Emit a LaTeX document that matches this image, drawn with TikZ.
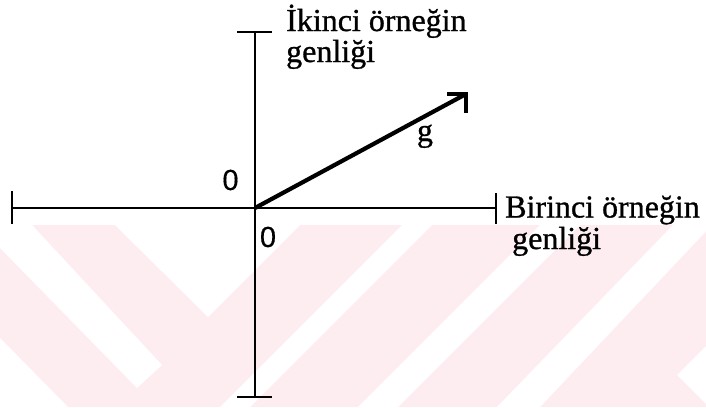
\documentclass[tikz,border=0pt]{standalone}
\usepackage{fontspec}
\setmainfont{Liberation Serif}
\newfontfamily\heavyserif{Liberation Serif}[FakeBold=0.9]
\newfontfamily\zerofont{Liberation Sans}[FakeBold=0.5]
\definecolor{wmpink}{RGB}{253,237,241}
\begin{document}
\begin{tikzpicture}[x=1pt,y=-1pt,
  axisline/.style={line width=2.7pt, black},
  vecline/.style={line width=4.2pt, black},
  lbl/.style={inner sep=0pt, font=\heavyserif\fontsize{32}{32}\selectfont},
  zero/.style={inner sep=0pt, font=\zerofont\fontsize{29}{29}\selectfont},
  wm/.style={fill=white, draw=none}]
\useasboundingbox (0,0) rectangle (706,407);
% watermark background
\fill[wmpink] (0,225) rectangle (706,407);
\fill[wm] (0,225) -- (32,225) -- (162,365) -- (137,388) -- (0,248) -- cycle;
\fill[wm] (115,225) -- (300,225) -- (208,317) -- cycle;
\fill[wm] (0,338) -- (0,407) -- (68,407) -- cycle;
\fill[wm] (402,225) -- (432,225) -- (250,407) -- (220,407) -- cycle;
\fill[wm] (540,225) -- (580,225) -- (398,407) -- (358,407) -- cycle;
\fill[wm] (673,225) -- (712,225) -- (540,407) -- (497,407) -- cycle;
\fill[wm] (706,346) -- (677,375) -- (706,404) -- cycle;
% coordinates
\coordinate (O) at (255,208);
\coordinate (L) at (12,208);
\coordinate (R) at (496,208);
\coordinate (Tp) at (255,32);
\coordinate (Bt) at (255,397);
\coordinate (T) at (466,94);
% axes
\draw[axisline] (L) -- (R);
\draw[axisline] (Tp) -- (Bt);
\draw[axisline] ([yshift=17pt]L) -- ([yshift=-16pt]L);
\draw[axisline] ([yshift=15pt]R) -- ([yshift=-16pt]R);
\draw[axisline] ([xshift=-18pt]Tp) -- ([xshift=17pt]Tp);
\draw[axisline] ([xshift=-18pt]Bt) -- ([xshift=17pt]Bt);
% vector
\draw[vecline] (O) -- (T);
\draw[vecline, line join=miter] ([xshift=-19pt]T) -- (T) -- ([yshift=-19pt]T);
% labels
\node[lbl, anchor=base west] (ylab1) at (286,31) {İkinci örneğin};
\node[lbl, anchor=base west] (ylab2) at (286,62) {genliği};
\node[lbl, anchor=base west] (xlab1) at (505,217.5) {Birinci örneğin};
\node[lbl, anchor=base west] (xlab2) at (512,249) {genliği};
\node[lbl, anchor=base] (glab) at (425,141) {g};
\node[zero] (z1) at (230.5,180) {0};
\node[zero] (z2) at (268,237) {0};
\end{tikzpicture}
\end{document}
